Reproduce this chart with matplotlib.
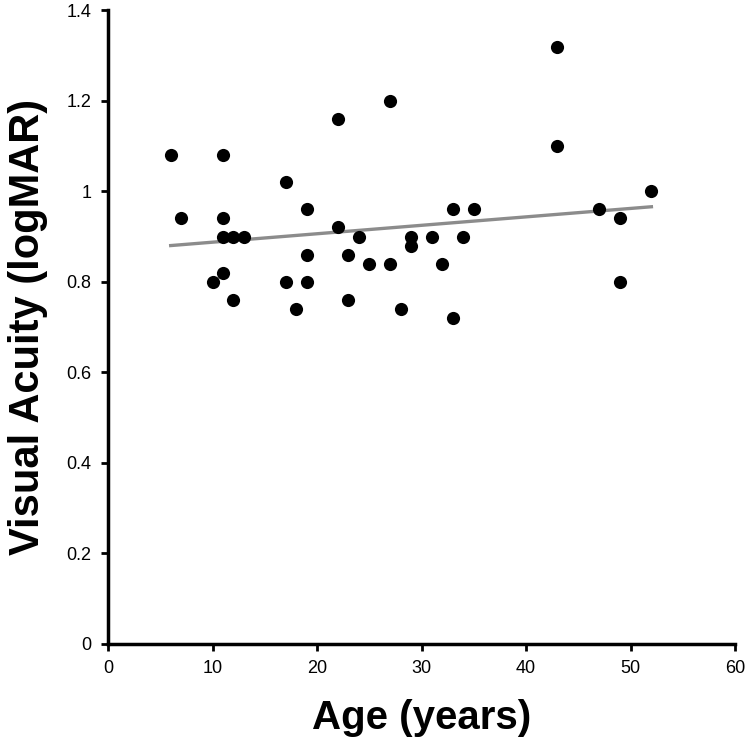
import numpy as np
import matplotlib
matplotlib.use("Agg")
import matplotlib.pyplot as plt

plt.rcParams['font.family'] = ['Liberation Sans', 'DejaVu Sans']

# Age (years) and visual acuity (logMAR)
age = [6, 7, 10, 11, 11, 11, 11, 12, 12, 13,
       17, 17, 18, 19, 19, 19, 22, 22, 23, 23,
       24, 25, 27, 27, 28, 29, 29, 31, 32, 33,
       33, 34, 35, 43, 43, 47, 49, 49, 52]
acuity = [1.08, 0.94, 0.80, 1.08, 0.94, 0.90, 0.82, 0.90, 0.76, 0.90,
          1.02, 0.80, 0.74, 0.96, 0.86, 0.80, 1.16, 0.92, 0.86, 0.76,
          0.90, 0.84, 1.20, 0.84, 0.74, 0.90, 0.88, 0.90, 0.84, 0.96,
          0.72, 0.90, 0.96, 1.32, 1.10, 0.96, 0.94, 0.80, 1.00]

x_ticks = [0, 10, 20, 30, 40, 50, 60]
y_ticks = [0, 0.2, 0.4, 0.6, 0.8, 1.0, 1.2, 1.4]
y_labels = ["0", "0.2", "0.4", "0.6", "0.8", "1", "1.2", "1.4"]

# linear trend line
slope, intercept = np.polyfit(age, acuity, 1)
line_x = np.array([min(age), max(age)])
line_y = slope * line_x + intercept

fig = plt.figure(figsize=(7.5, 7.44), dpi=100)
ax = fig.add_axes([0.144, 0.135, 0.836, 0.851])

ax.plot(line_x, line_y, color='#8c8c8c', linewidth=2.4, zorder=2)
ax.scatter(age, acuity, s=90, color='black', zorder=3, linewidths=0)

ax.set_xlim(0, 60)
ax.set_ylim(0, 1.4)
ax.set_xticks(x_ticks)
ax.set_yticks(y_ticks)
ax.set_yticklabels(y_labels)

for side in ['top', 'right']:
    ax.spines[side].set_visible(False)
for side in ['left', 'bottom']:
    ax.spines[side].set_linewidth(2.5)

ax.tick_params(direction='out', length=5, width=2, labelsize=13, pad=7)

ax.set_xlabel("Age (years)", fontsize=29, fontweight='bold', labelpad=16)
ax.set_ylabel("Visual Acuity (logMAR)", fontsize=30, fontweight='bold', labelpad=13)

plt.savefig("out.png", dpi=100)
